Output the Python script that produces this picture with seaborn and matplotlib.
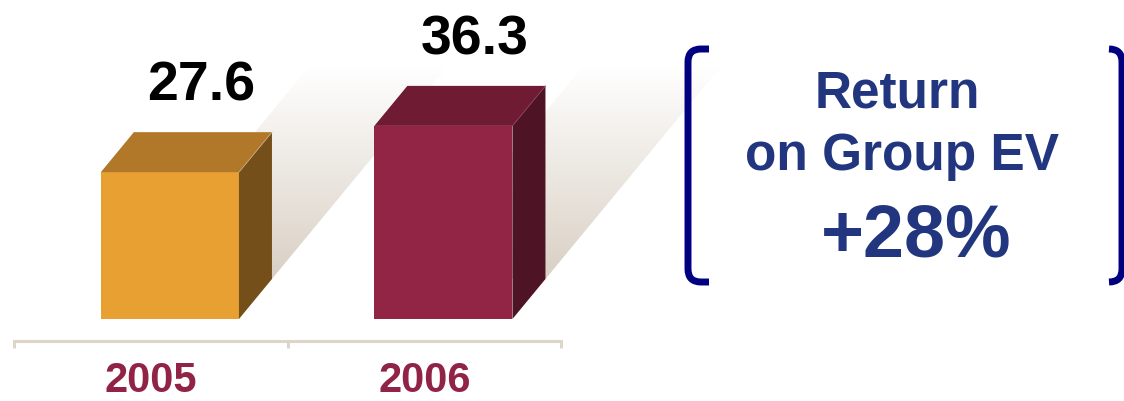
import numpy as np
import pandas as pd
import seaborn as sns
import matplotlib.pyplot as plt
from matplotlib.patches import Polygon, PathPatch
from matplotlib.path import Path
from matplotlib.colors import LinearSegmentedColormap

# chart data
years = ["2005", "2006"]
values = [27.6, 36.3]
front_colors = ["#E9A033", "#922445"]
top_colors = ["#B07828", "#6F1B34"]
side_colors = ["#754F1A", "#4E1425"]

# side panel text
panel_lines = ["Return", "on Group EV"]
panel_value = "+28%"

sns.set_style("white")
plt.rcParams['font.family'] = ['Liberation Sans', 'DejaVu Sans']

fig = plt.figure(figsize=(11.24, 4.02), dpi=100)
ax = fig.add_axes([14 / 1124, 0, 547 / 1124, 1])

df = pd.DataFrame({"year": years, "value": values})
sns.barplot(data=df, x="year", y="value", hue="year", palette=front_colors,
            saturation=1, width=0.505, legend=False, ax=ax, zorder=3)

# 3D look: depth of the box and the long shadow behind it
shift = 0.07
dx, dy = 0.1207, 7.52
k = 5.32
shade_cmap = LinearSegmentedColormap.from_list("shade", ["#D9D0C4", "#FFFFFF"])
grad = np.linspace(0, 1, 256).reshape(-1, 1)

bars = sorted(ax.patches, key=lambda b: b.get_x())
for i, bar in enumerate(bars):
    bar.set_x(bar.get_x() + shift)
    bar.set_edgecolor("none")
    x0 = bar.get_x()
    x1 = x0 + bar.get_width()
    h = bar.get_height()

    top = [(x0, h), (x1, h), (x1 + dx, h + dy), (x0 + dx, h + dy)]
    side = [(x1, 0), (x1 + dx, dy), (x1 + dx, h + dy), (x1, h)]
    ax.add_patch(Polygon(top, closed=True, facecolor=top_colors[i], edgecolor="none", zorder=3))
    ax.add_patch(Polygon(side, closed=True, facecolor=side_colors[i], edgecolor="none", zorder=3))
    # thin light edge between top and side faces
    ax.plot([x1, x1 + dx], [h, h + dy], color="#C9A88A" if i == 0 else "#8A4058",
            lw=0.6, zorder=3.5)

    sx, sy = k * dx, k * dy
    shadow = [(x0 + dx, dy), (x1 + dx, dy), (x1 + dx + sx, dy + sy), (x0 + dx + sx, dy + sy)]
    poly = Polygon(shadow, closed=True, facecolor="none", edgecolor="none", zorder=1)
    ax.add_patch(poly)
    im = ax.imshow(grad, extent=[x0 + dx, x1 + dx + sx, dy, dy + sy], origin="lower",
                   cmap=shade_cmap, aspect="auto", zorder=1, interpolation="bicubic")
    im.set_clip_path(poly)
    im.set_clip_box(fig.bbox)

    ax.text((x0 + x1) / 2 + 0.113, h + 13.6, f"{values[i]:.1f}", ha="center", va="baseline",
            fontsize=40, fontweight="bold", color="black", zorder=4)

ax.set_xlim(-0.5, 1.5)
ax.set_ylim(-15.41, 60.15)
ax.set_xlabel("")
ax.set_ylabel("")
ax.set_yticks([])

# axis line with boundary ticks, year labels in between
sns.despine(ax=ax, left=True)
ax.spines["bottom"].set_position(("data", -4.14))
ax.spines["bottom"].set_color("#DDD5C8")
ax.spines["bottom"].set_linewidth(2.2)
ax.set_xticks([-0.5, 0.5, 1.5])
ax.set_xticklabels([])
ax.set_xticks([0, 1], labels=years, minor=True)
ax.tick_params(axis="x", which="major", bottom=True, length=5, width=2.2,
               color="#DDD5C8", direction="out", labelbottom=False)
ax.tick_params(axis="x", which="minor", bottom=True, length=0, pad=14,
               labelsize=30, labelcolor="#912346")
for lab in ax.get_xticklabels(minor=True):
    lab.set_fontweight("bold")

# overlay for the bracketed note on the right
ax2 = fig.add_axes([0, 0, 1, 1])
ax2.set_xlim(0, 1124)
ax2.set_ylim(402, 0)
ax2.axis("off")


def bracket(xv, xend, ytop, ybot, r):
    s = np.sign(xend - xv)
    verts = [(xend, ytop), (xv + s * r, ytop), (xv, ytop), (xv, ytop + r),
             (xv, ybot - r), (xv, ybot), (xv + s * r, ybot), (xend, ybot)]
    codes = [Path.MOVETO, Path.LINETO, Path.CURVE3, Path.CURVE3,
             Path.LINETO, Path.CURVE3, Path.CURVE3, Path.LINETO]
    return PathPatch(Path(verts, codes), fill=False, edgecolor="#000080",
                     lw=5, capstyle="butt", joinstyle="round")


ax2.add_patch(bracket(688, 709, 50, 283, 13))
ax2.add_patch(bracket(1122, 1109, 50, 283, 13))

note_color = "#22367F"
ax2.text(897, 107, panel_lines[0], ha="center", va="baseline", fontsize=37,
         fontweight="bold", color=note_color)
ax2.text(902, 170, panel_lines[1], ha="center", va="baseline", fontsize=37,
         fontweight="bold", color=note_color)
ax2.text(916, 257, panel_value, ha="center", va="baseline", fontsize=53,
         fontweight="bold", color=note_color)

fig.savefig("out.png", dpi=100)
